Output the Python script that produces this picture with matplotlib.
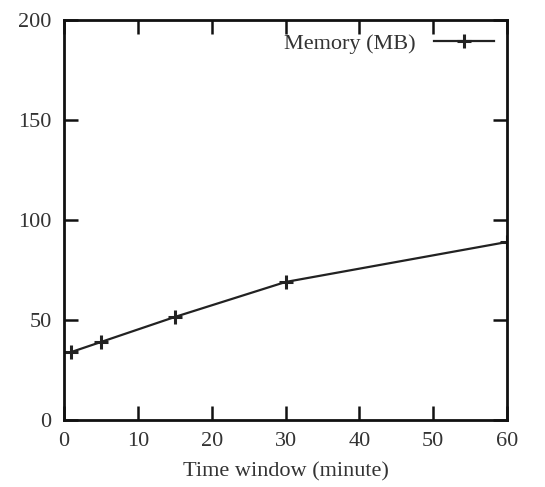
import matplotlib
matplotlib.use("Agg")
import matplotlib.pyplot as plt

# Memory usage versus the length of the time window
window_minutes = [1, 5, 15, 30, 60]
memory_mb = [34, 39, 51.5, 69, 89]

x_ticks = [0, 10, 20, 30, 40, 50, 60]
y_ticks = [0, 50, 100, 150, 200]

plt.rcParams["font.family"] = ["Liberation Serif", "DejaVu Serif"]
plt.rcParams["font.size"] = 16

fig = plt.figure(figsize=(5.45, 4.87), dpi=100)
ax = fig.add_axes([64 / 545, 67 / 487, 443 / 545, 400 / 487])

ax.plot(window_minutes, memory_mb, color="#222222", linewidth=1.6,
        marker="+", markersize=10, markeredgewidth=2.2, label="Memory (MB)")

ax.set_xlim(0, 60)
ax.set_ylim(0, 200)
ax.set_xticks(x_ticks)
ax.set_yticks(y_ticks)
ax.tick_params(direction="in", length=10, width=1.8, top=True, right=True,
               colors="#111111", labelcolor="#333333")
ax.tick_params(axis="x", pad=9)
ax.tick_params(axis="y", pad=9)
for side in ax.spines.values():
    side.set_linewidth(2.0)
    side.set_color("#111111")

ax.set_xlabel("Time window (minute)", labelpad=8, color="#333333")

leg = ax.legend(loc="upper right", frameon=False, markerfirst=False,
                handlelength=2.7, handletextpad=0.8, borderaxespad=0.2,
                fontsize=16)
for t in leg.get_texts():
    t.set_color("#333333")

fig.savefig("out.png", dpi=100)
